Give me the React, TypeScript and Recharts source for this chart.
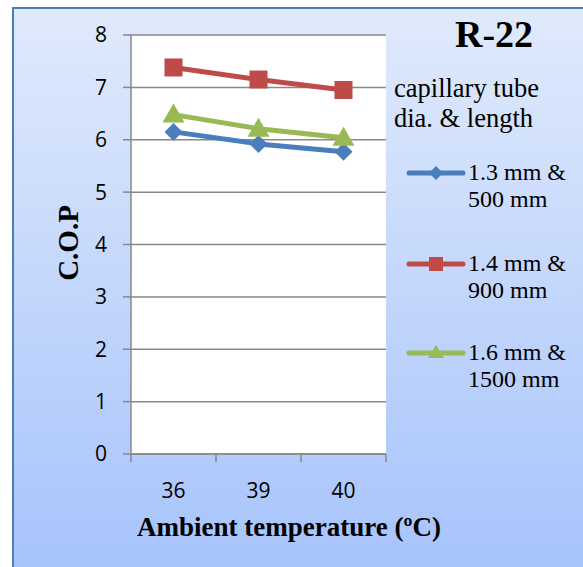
import React from 'react';
import { LineChart, Line, XAxis, YAxis, CartesianGrid } from 'recharts';

const categories = ['36', '39', '40'];
const cop13 = [6.15, 5.92, 5.77];
const cop14 = [7.38, 7.15, 6.95];
const cop16 = [6.48, 6.21, 6.04];
const yTicks = [0, 1, 2, 3, 4, 5, 6, 7, 8];

const data = categories.map((c, i) => ({ t: c, a: cop13[i], b: cop14[i], c: cop16[i] }));

const W = 583;
const H = 567;
const X_H = 30;
const M = { top: 35, right: 197, bottom: 113 - X_H, left: 0 };
const Y_W = 131;
const AXIS_Y = H - M.bottom - X_H;
const BAND = (W - M.right - Y_W) / categories.length;

const BLUE = '#4a7ebb';
const RED = '#be4b48';
const GREEN = '#98b954';
const GRID = '#898989';
const serif = '"Liberation Serif", "Times New Roman", serif';
const sans = '"Open Sans", Carlito, sans-serif';

const Diamond = (p: any) => {
  const { cx, cy } = p;
  const s = 9;
  return <path d={`M${cx},${cy - s}L${cx + s},${cy}L${cx},${cy + s}L${cx - s},${cy}Z`} fill={BLUE} />;
};
const Square = (p: any) => {
  const { cx, cy } = p;
  return <rect x={cx - 9} y={cy - 9} width={18} height={18} fill={RED} />;
};
const Triangle = (p: any) => {
  const { cx, cy } = p;
  return <path d={`M${cx},${cy - 11}L${cx + 11},${cy + 8}L${cx - 11},${cy + 8}Z`} fill={GREEN} />;
};

const XTick = (p: any) => {
  const { x, payload, index } = p;
  return (
    <g>
      <line x1={x - BAND / 2} x2={x - BAND / 2} y1={AXIS_Y} y2={AXIS_Y + 8} stroke={GRID} strokeWidth={1.5} />
      {index === categories.length - 1 && (
        <line x1={x + BAND / 2} x2={x + BAND / 2} y1={AXIS_Y} y2={AXIS_Y + 8} stroke={GRID} strokeWidth={1.5} />
      )}
      <text x={x} y={AXIS_Y + 44} textAnchor="middle" fontFamily={sans} fontSize={21} fill="#000">
        {payload.value}
      </text>
    </g>
  );
};

const legendItems = [
  { color: BLUE, l1: '1.3 mm &', l2: '500 mm', shape: 'diamond', y: 173 },
  { color: RED, l1: '1.4 mm &', l2: '900 mm', shape: 'square', y: 264 },
  { color: GREEN, l1: '1.6 mm &', l2: '1500 mm', shape: 'triangle', y: 353 },
];

const LegendIcon = ({ color, shape }: { color: string; shape: string }) => (
  <svg width={60} height={20} style={{ display: 'block' }}>
    <line x1={3} x2={57} y1={10} y2={10} stroke={color} strokeWidth={5} strokeLinecap="round" />
    {shape === 'diamond' && <path d="M30,3L37,10L30,17L23,10Z" fill={color} />}
    {shape === 'square' && <rect x={23} y={3} width={14} height={14} fill={color} />}
    {shape === 'triangle' && <path d="M30,2L38,15L22,15Z" fill={color} />}
  </svg>
);

export default function App() {
  return (
    <div style={{ position: 'fixed', left: 0, top: 0, width: W, height: H, background: '#fff', overflow: 'hidden' }}>
      <div
        style={{
          position: 'absolute',
          left: 12,
          top: 7,
          width: W,
          height: H,
          borderLeft: `2px solid ${BLUE}`,
          borderTop: `2px solid ${BLUE}`,
          background: 'linear-gradient(to bottom, #e0eafc 0%, #a6c3fb 100%)',
        }}
      />
      <div style={{ position: 'absolute', left: 0, top: 0 }}>
        <LineChart width={W} height={H} data={data} margin={M}>
          <CartesianGrid vertical={false} stroke={GRID} strokeWidth={1.5} fill="#ffffff" />
          <XAxis
            dataKey="t"
            height={X_H}
            tickLine={false}
            axisLine={{ stroke: GRID, strokeWidth: 1.5 }}
            tick={<XTick />}
            interval={0}
            padding={{ left: BAND / 2, right: BAND / 2 }}
          />
          <YAxis
            width={Y_W}
            domain={[0, 8]}
            ticks={yTicks}
            tickSize={8}
            tickMargin={16}
            tickLine={{ stroke: GRID, strokeWidth: 1.5 }}
            axisLine={{ stroke: GRID, strokeWidth: 1.5 }}
            tick={{ fill: '#000', fontFamily: sans, fontSize: 21 }}
          />
          <Line dataKey="a" stroke={BLUE} strokeWidth={5} dot={<Diamond />} isAnimationActive={false} />
          <Line dataKey="b" stroke={RED} strokeWidth={5} dot={<Square />} isAnimationActive={false} />
          <Line dataKey="c" stroke={GREEN} strokeWidth={5} dot={<Triangle />} isAnimationActive={false} />
        </LineChart>
      </div>
      <div
        style={{
          position: 'absolute',
          left: 455,
          top: 15,
          fontFamily: serif,
          fontWeight: 'bold',
          fontSize: 38,
          lineHeight: 1,
          color: '#000',
          whiteSpace: 'nowrap',
        }}
      >
        R-22
      </div>
      <div
        style={{
          position: 'absolute',
          left: 68,
          top: 243,
          transform: 'translate(-50%, -50%) rotate(-90deg)',
          fontFamily: serif,
          fontWeight: 'bold',
          fontSize: 29,
          lineHeight: 1,
          whiteSpace: 'nowrap',
        }}
      >
        C.O.P
      </div>
      <div
        style={{
          position: 'absolute',
          left: 289,
          top: 514,
          transform: 'translateX(-50%)',
          whiteSpace: 'nowrap',
          fontFamily: serif,
          fontWeight: 'bold',
          fontSize: 27,
          lineHeight: 1,
        }}
      >
        Ambient temperature (ºC)
      </div>
      <div
        style={{
          position: 'absolute',
          left: 394,
          top: 73,
          fontFamily: serif,
          fontSize: 26.5,
          lineHeight: '30px',
          whiteSpace: 'nowrap',
        }}
      >
        capillary tube
        <br />
        dia. &amp; length
      </div>
      {legendItems.map((it) => (
        <div key={it.l1}>
          <div style={{ position: 'absolute', left: 406, top: it.y - 10 }}>
            <LegendIcon color={it.color} shape={it.shape} />
          </div>
          <div
            style={{
              position: 'absolute',
              left: 468,
              top: it.y - 14,
              fontFamily: serif,
              fontSize: 24,
              lineHeight: '27px',
              whiteSpace: 'nowrap',
            }}
          >
            {it.l1}
            <br />
            {it.l2}
          </div>
        </div>
      ))}
    </div>
  );
}
